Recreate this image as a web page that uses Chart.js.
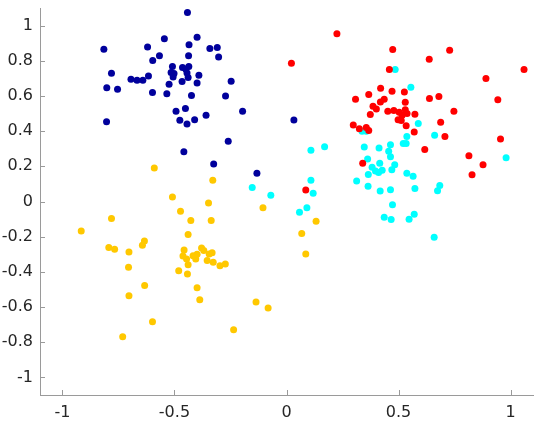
<!DOCTYPE html>
<html>
<head>
<meta charset="utf-8">
<script src="https://cdn.jsdelivr.net/npm/chart.js@4.4.1/dist/chart.umd.min.js"></script>
<style>
  html, body { margin: 0; padding: 0; background: #fff; }
  #wrap { width: 538px; height: 428px; }
</style>
</head>
<body>
<div id="wrap"><canvas id="scatterChart" width="538" height="428"></canvas></div>
<script>
// Tick values
const xTicks = [-1, -0.5, 0, 0.5, 1];
const yTicks = [-1, -0.8, -0.6, -0.4, -0.2, 0, 0.2, 0.4, 0.6, 0.8, 1];

// Cluster 1 (dark blue)
const blueX = [-0.442, -0.815, -0.620, -0.545, -0.399, -0.435, -0.342, -0.309, -0.303, -0.567,
  -0.597, -0.437, -0.781, -0.802, -0.754, -0.694, -0.667, -0.641, -0.616, -0.598,
  -0.509, -0.515, -0.502, -0.506, -0.524, -0.534, -0.464, -0.449, -0.436, -0.444,
  -0.439, -0.466, -0.391, -0.399, -0.424, -0.493, -0.451, -0.476, -0.444, -0.410,
  -0.359, -0.272, -0.247, -0.196, -0.803, -0.260, -0.458, -0.325, -0.132, 0.033];
const blueY = [1.075, 0.866, 0.879, 0.925, 0.934, 0.891, 0.870, 0.876, 0.822, 0.828,
  0.801, 0.828, 0.729, 0.646, 0.638, 0.695, 0.689, 0.689, 0.714, 0.619,
  0.767, 0.733, 0.727, 0.708, 0.667, 0.612, 0.762, 0.752, 0.767, 0.731,
  0.705, 0.682, 0.718, 0.674, 0.602, 0.513, 0.528, 0.462, 0.441, 0.465,
  0.490, 0.600, 0.684, 0.513, 0.454, 0.342, 0.283, 0.213, 0.160, 0.463];

// Cluster 2 (yellow)
const yellowX = [-0.590, -0.329, -0.509, -0.348, -0.473, -0.427, -0.336, -0.105, -0.781, -0.916,
  -0.439, -0.793, -0.767, -0.634, -0.643, -0.703, -0.705, -0.703, -0.633, -0.598,
  -0.731, -0.457, -0.462, -0.446, -0.439, -0.417, -0.405, -0.399, -0.379, -0.369,
  -0.354, -0.345, -0.332, -0.327, -0.297, -0.273, -0.481, -0.442, -0.399, -0.387,
  -0.236, -0.136, -0.082, 0.132, 0.068, 0.086];
const yellowY = [0.190, 0.121, 0.025, -0.008, -0.055, -0.108, -0.108, -0.036, -0.097, -0.167,
  -0.188, -0.262, -0.272, -0.224, -0.249, -0.287, -0.374, -0.536, -0.477, -0.684,
  -0.769, -0.275, -0.310, -0.327, -0.359, -0.308, -0.327, -0.300, -0.264, -0.279,
  -0.336, -0.298, -0.292, -0.346, -0.365, -0.355, -0.393, -0.412, -0.490, -0.558,
  -0.729, -0.572, -0.606, -0.112, -0.182, -0.298];

// Cluster 3 (red)
const redX = [0.225, 0.022, 0.474, 0.728, 0.637, 0.459, 1.060, 0.890, 0.943, 0.955,
  0.814, 0.877, 0.828, 0.308, 0.367, 0.420, 0.471, 0.526, 0.530, 0.638,
  0.680, 0.747, 0.436, 0.419, 0.386, 0.401, 0.374, 0.452, 0.479, 0.503,
  0.530, 0.538, 0.573, 0.516, 0.498, 0.512, 0.534, 0.570, 0.688, 0.707,
  0.617, 0.298, 0.325, 0.356, 0.367, 0.340, 0.086];
const redY = [0.953, 0.786, 0.864, 0.860, 0.809, 0.750, 0.750, 0.699, 0.579, 0.355,
  0.260, 0.209, 0.152, 0.581, 0.608, 0.644, 0.627, 0.623, 0.564, 0.585,
  0.597, 0.513, 0.581, 0.566, 0.541, 0.526, 0.494, 0.513, 0.517, 0.507,
  0.522, 0.500, 0.496, 0.490, 0.465, 0.460, 0.431, 0.395, 0.450, 0.370,
  0.296, 0.435, 0.414, 0.420, 0.403, 0.217, 0.065];

// Cluster 4 (cyan)
const cyanX = [0.485, 0.555, 0.588, 0.661, 0.537, 0.521, 0.534, 0.980, 0.337, 0.356,
  0.347, 0.413, 0.464, 0.456, 0.464, 0.362, 0.483, 0.470, 0.416, 0.382,
  0.397, 0.411, 0.427, 0.365, 0.537, 0.565, 0.313, 0.364, 0.418, 0.464,
  0.573, 0.684, 0.674, 0.473, 0.109, 0.170, 0.109, 0.119, -0.070, 0.091,
  0.058, -0.153, 0.436, 0.467, 0.547, 0.570, 0.659];
const cyanY = [0.750, 0.650, 0.444, 0.376, 0.370, 0.330, 0.330, 0.249, 0.399, 0.399,
  0.310, 0.304, 0.323, 0.285, 0.255, 0.241, 0.209, 0.180, 0.218, 0.194,
  0.173, 0.165, 0.178, 0.154, 0.161, 0.144, 0.116, 0.087, 0.059, 0.067,
  0.074, 0.091, 0.061, -0.019, 0.292, 0.311, 0.121, 0.047, 0.036, -0.036,
  -0.061, 0.080, -0.089, -0.103, -0.101, -0.072, -0.203];

function toPoints(xs, ys) {
    return xs.map((x, i) => ({ x: x, y: ys[i] }));
}

function makeSet(label, xs, ys, color) {
    return {
        label: label,
        data: toPoints(xs, ys),
        backgroundColor: color,
        borderWidth: 0,
        pointRadius: 3.5,
        pointHoverRadius: 3.5
    };
}

// MATLAB style tick marks that point into the plot
const innerTicks = {
    id: 'innerTicks',
    afterDatasetsDraw(chart) {
        const ctx = chart.ctx;
        const xs = chart.scales.x;
        const ys = chart.scales.y;
        const len = 5;
        ctx.save();
        ctx.strokeStyle = '#9a9a9a';
        ctx.lineWidth = 1;
        ctx.beginPath();
        xTicks.forEach(v => {
            const px = Math.round(xs.getPixelForValue(v)) + 0.5;
            ctx.moveTo(px, ys.bottom);
            ctx.lineTo(px, ys.bottom - len);
        });
        yTicks.forEach(v => {
            const py = Math.round(ys.getPixelForValue(v)) + 0.5;
            ctx.moveTo(xs.left, py);
            ctx.lineTo(xs.left + len, py);
        });
        ctx.stroke();
        ctx.restore();
    }
};

function fmt(v) {
    const r = Math.round(v * 100) / 100;
    return r === 0 ? '0' : String(r);
}

const tickFont = { family: '"DejaVu Sans", sans-serif', size: 16 };

new Chart(document.getElementById('scatterChart').getContext('2d'), {
    type: 'scatter',
    data: {
        datasets: [
            makeSet('1', blueX, blueY, '#00009c'),
            makeSet('2', yellowX, yellowY, '#ffc800'),
            makeSet('3', redX, redY, '#ff0000'),
            makeSet('4', cyanX, cyanY, '#00ffff')
        ]
    },
    options: {
        responsive: false,
        animation: false,
        events: [],
        layout: { padding: { top: 8, right: 5, left: 0, bottom: 0 } },
        plugins: {
            legend: { display: false },
            tooltip: { enabled: false }
        },
        scales: {
            x: {
                type: 'linear',
                min: -1.1,
                max: 1.1,
                afterBuildTicks: scale => { scale.ticks = xTicks.map(v => ({ value: v })); },
                afterFit: scale => {
                    scale.height = 33;
                    scale.paddingLeft = 0;
                    scale.paddingRight = 0;
                },
                grid: { display: true, drawOnChartArea: false, drawTicks: false },
                border: { display: true, color: '#9a9a9a', width: 1 },
                ticks: {
                    color: '#262626',
                    font: tickFont,
                    padding: 8,
                    maxRotation: 0,
                    autoSkip: false,
                    callback: v => fmt(v)
                }
            },
            y: {
                type: 'linear',
                min: -1.1,
                max: 1.1,
                afterBuildTicks: scale => { scale.ticks = yTicks.map(v => ({ value: v })); },
                afterFit: scale => {
                    scale.width = 40;
                    scale.paddingTop = 0;
                    scale.paddingBottom = 0;
                },
                grid: { display: true, drawOnChartArea: false, drawTicks: false },
                border: { display: true, color: '#9a9a9a', width: 1 },
                ticks: {
                    color: '#262626',
                    font: tickFont,
                    padding: 7,
                    autoSkip: false,
                    callback: v => fmt(v)
                }
            }
        }
    },
    plugins: [innerTicks]
});
</script>
</body>
</html>
